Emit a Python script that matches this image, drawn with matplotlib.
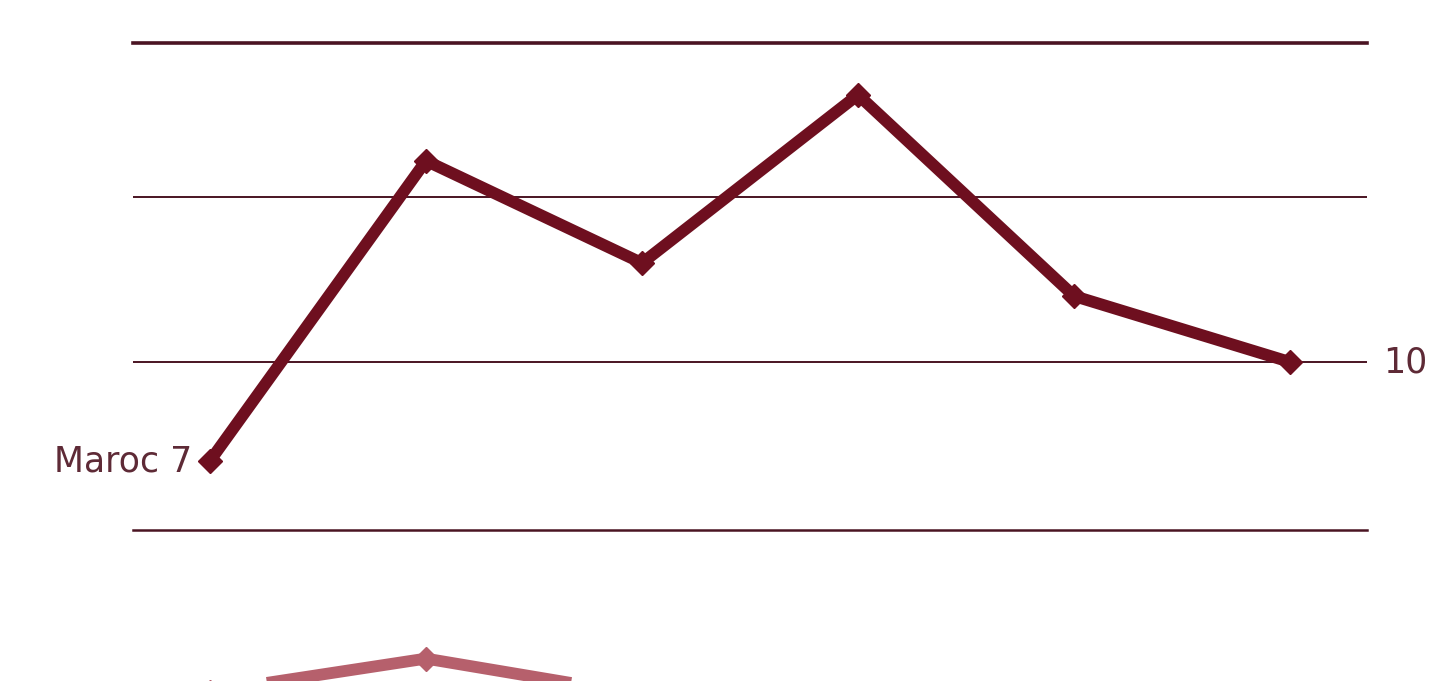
import matplotlib.pyplot as plt

# data
periods = [0, 1, 2, 3, 4, 5]
maroc = [7, 16.1, 13, 18.1, 12, 10]
# second series, only its peak shows at the bottom edge
other = [17.5, 18.5, 17.4, 15, 14, 13]
grid_vals = [10, 15]

W, H = 1430, 681
fig = plt.figure(figsize=(W / 100, H / 100), dpi=100)
fig.patch.set_facecolor('white')

dark = '#6e0f1f'
grid_c = '#4a1422'
label_c = '#5e2a36'
light = '#b6606c'

x0, x1 = 133, 1367
xlim = (-0.356, 5.356)
ylim = (4.91, 19.67)


def panel(top, bottom):
    ax = fig.add_axes([x0 / W, (H - bottom) / H, (x1 - x0) / W, (bottom - top) / H])
    ax.set_xlim(*xlim)
    ax.set_ylim(*ylim)
    ax.axis('off')
    ax.patch.set_alpha(0)
    return ax


ax = panel(43, 530)
ax.axhline(ylim[1], color=grid_c, lw=2.6, zorder=1, clip_on=False)
ax.axhline(ylim[0], color=grid_c, lw=1.8, zorder=1, clip_on=False)
for g in grid_vals:
    ax.axhline(g, color=grid_c, lw=1.4, zorder=1)
ax.plot(periods, maroc, color=dark, lw=8.5, marker='D', ms=12,
        solid_joinstyle='miter', zorder=3, clip_on=False)
ax.text(periods[0] - 0.08, maroc[0], 'Maroc %d' % maroc[0], ha='right',
        va='center', fontsize=25, color=label_c)
ax.text(5.356 + 0.075, maroc[-1], '%d' % maroc[-1], ha='left', va='center',
        fontsize=25, color=label_c)

ax2 = panel(620, 1107)
ax2.plot(periods, other, color=light, lw=8.5, marker='D', ms=12,
         solid_joinstyle='miter', zorder=3, clip_on=False)

fig.savefig('out.png', dpi=100, facecolor='white')
